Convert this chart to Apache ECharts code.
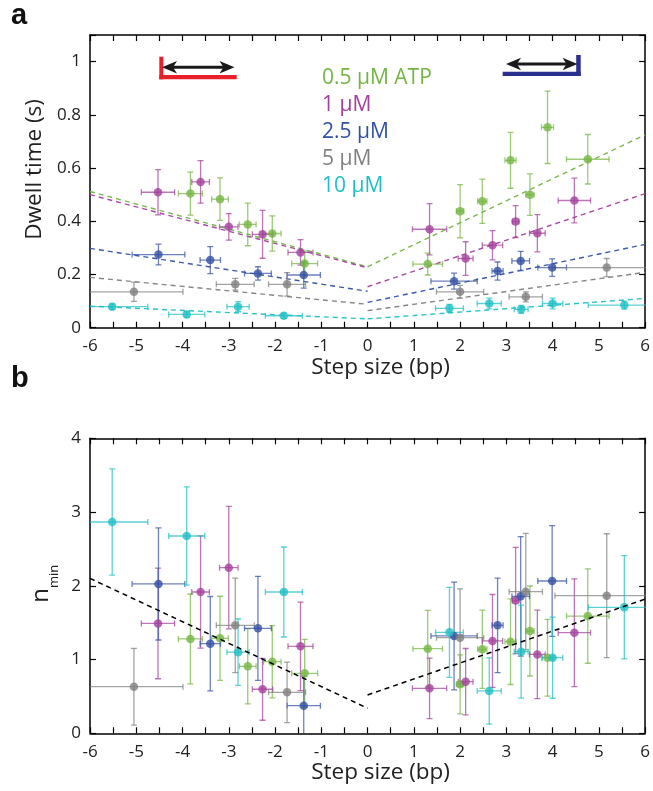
<!DOCTYPE html>
<html>
<head>
<meta charset="utf-8">
<script src="https://cdn.jsdelivr.net/npm/echarts@6/dist/echarts.min.js"></script>
<style>html,body{margin:0;padding:0;background:#fff}#c{width:653px;height:791px}</style>
</head>
<body>
<div id="c"></div>
<script>
// ---------- data ----------
const concNames = ['0.5 µM ATP', '1 µM', '2.5 µM', '5 µM', '10 µM'];
const concColors = ['#74b544', '#a4419c', '#3450a3', '#808080', '#1fbfc4'];

// 0.5 µM
const x05 = [-3.83, -3.19, -2.59, -2.06, -1.36, 1.30, 2.00, 2.48, 3.09, 3.51, 3.89, 4.76];
const xErr05 = [0.26, 0.18, 0.18, 0.19, 0.28, 0.32, 0.08, 0.10, 0.12, 0.09, 0.13, 0.46];
const dwell05 = [0.504, 0.483, 0.388, 0.354, 0.241, 0.239, 0.438, 0.475, 0.629, 0.50, 0.753, 0.633];
const dwellErr05 = [0.081, 0.08, 0.08, 0.066, 0.047, 0.041, 0.10, 0.083, 0.105, 0.078, 0.136, 0.093];
const nmin05 = [1.279, 1.288, 0.908, 0.971, 0.813, 1.148, 0.664, 1.139, 1.242, 1.387, 1.025, 1.59];
const nminErr05 = [0.61, 0.57, 0.51, 0.49, 0.46, 0.52, 0.40, 0.53, 0.58, 0.61, 0.52, 0.64];

// 1 µM
const x1 = [-4.53, -3.61, -3.00, -2.27, -1.45, 1.34, 2.12, 2.70, 3.20, 3.67, 4.47];
const xErr1 = [0.36, 0.19, 0.20, 0.22, 0.27, 0.37, 0.16, 0.22, 0.07, 0.17, 0.35];
const dwell1 = [0.509, 0.548, 0.379, 0.351, 0.283, 0.370, 0.260, 0.310, 0.399, 0.355, 0.478];
const dwellErr1 = [0.085, 0.08, 0.05, 0.09, 0.048, 0.096, 0.063, 0.055, 0.06, 0.07, 0.084];
const nmin1 = [1.49, 1.916, 2.246, 0.597, 1.18, 0.61, 0.70, 1.252, 1.80, 1.07, 1.364];
const nminErr1 = [0.75, 0.76, 0.83, 0.42, 0.60, 0.41, 0.45, 0.63, 0.72, 0.60, 0.73];

// 2.5 µM
const x25 = [-4.52, -3.40, -2.37, -1.38, 1.87, 2.81, 3.31, 3.99];
const xErr25 = [0.57, 0.22, 0.29, 0.36, 0.50, 0.12, 0.19, 0.31];
const dwell25 = [0.275, 0.254, 0.204, 0.198, 0.175, 0.213, 0.251, 0.226];
const dwellErr25 = [0.039, 0.051, 0.025, 0.049, 0.03, 0.034, 0.036, 0.033];
const nmin25 = [2.025, 1.215, 1.423, 0.375, 1.32, 1.464, 1.857, 2.065];
const nminErr25 = [0.76, 0.64, 0.705, 0.40, 0.73, 0.64, 0.81, 0.75];

// 5 µM
const x5 = [-5.05, -2.86, -1.74, 2.00, 3.42, 5.17];
const xErr5 = [1.06, 0.41, 0.40, 0.51, 0.36, 1.12];
const dwell5 = [0.135, 0.163, 0.163, 0.135, 0.116, 0.226];
const dwellErr5 = [0.036, 0.022, 0.044, 0.024, 0.019, 0.034];
const nmin5 = [0.632, 1.464, 0.556, 1.297, 1.92, 1.866];
const nminErr5 = [0.52, 0.64, 0.41, 0.66, 0.79, 0.84];

// 10 µM
const x10 = [-5.52, -3.91, -2.80, -1.81, 1.77, 2.63, 3.32, 4.00, 5.55];
const xErr10 = [0.77, 0.39, 0.24, 0.40, 0.30, 0.26, 0.15, 0.22, 0.78];
const dwell10 = [0.079, 0.050, 0.079, 0.045, 0.073, 0.091, 0.069, 0.091, 0.085];
const dwellErr10 = [0.01, 0.01, 0.019, 0.01, 0.015, 0.02, 0.015, 0.02, 0.015];
const nmin10 = [2.865, 2.675, 1.10, 1.916, 1.369, 0.574, 1.107, 1.025, 1.708];
const nminErr10 = [0.72, 0.667, 0.45, 0.61, 0.61, 0.45, 0.63, 0.55, 0.70];

// dashed fits: value at x = -6, 0 (left) and 0, 6 (right)
const fitLeftX = [-6, 0];
const fitRightX = [0, 6];
const dwellFitLeft = [[0.512, 0.229], [0.50, 0.225], [0.298, 0.137], [0.189, 0.088], [0.081, 0.033]];
const dwellFitRight = [[0.229, 0.725], [0.154, 0.504], [0.095, 0.313], [0.064, 0.208], [0.033, 0.110]];
const nminFitLeft = [2.10, 0.34];
const nminFitRight = [0.52, 1.82];

const xTicks = ['-6', '-5', '-4', '-3', '-2', '-1', '0', '1', '2', '3', '4', '5', '6'];

// ---------- build ----------
const groups = [
  [x05, xErr05, dwell05, dwellErr05, nmin05, nminErr05],
  [x1, xErr1, dwell1, dwellErr1, nmin1, nminErr1],
  [x25, xErr25, dwell25, dwellErr25, nmin25, nminErr25],
  [x5, xErr5, dwell5, dwellErr5, nmin5, nminErr5],
  [x10, xErr10, dwell10, dwellErr10, nmin10, nminErr10]
];

const FONT = '"Open Sans", "Noto Sans", sans-serif';

function errorRender(color) {
  return function (params, api) {
    const x = api.value(0), y = api.value(1), xe = api.value(2), ye = api.value(3);
    const c = api.coord([x, y]);
    const l = api.coord([x - xe, y]);
    const r = api.coord([x + xe, y]);
    const t = api.coord([x, y + ye]);
    const b = api.coord([x, y - ye]);
    const cap = 3;
    const st = {stroke: color, lineWidth: 1.3, opacity: 0.72};
    const line = (x1, y1, x2, y2) => ({type: 'line', shape: {x1, y1, x2, y2}, style: st});
    return {
      type: 'group',
      children: [
        line(l[0], c[1], r[0], c[1]),
        line(l[0], c[1] - cap, l[0], c[1] + cap),
        line(r[0], c[1] - cap, r[0], c[1] + cap),
        line(c[0], t[1], c[0], b[1]),
        line(c[0] - cap, t[1], c[0] + cap, t[1]),
        line(c[0] - cap, b[1], c[0] + cap, b[1])
      ]
    };
  };
}

const series = [];
groups.forEach((g, i) => {
  const [xs, xe, dw, dwe, nm, nme] = g;
  const name = concNames[i], color = concColors[i];
  // panel a
  series.push({
    name, type: 'line', xAxisIndex: 0, yAxisIndex: 0, symbol: 'none', silent: true, z: 1,
    data: fitLeftX.map((x, k) => [x, dwellFitLeft[i][k]]),
    lineStyle: {color, width: 1.4, type: [5, 4], opacity: 0.95}
  });
  series.push({
    name, type: 'line', xAxisIndex: 0, yAxisIndex: 0, symbol: 'none', silent: true, z: 1,
    data: fitRightX.map((x, k) => [x, dwellFitRight[i][k]]),
    lineStyle: {color, width: 1.4, type: [5, 4], opacity: 0.95}
  });
  series.push({
    name, type: 'custom', xAxisIndex: 0, yAxisIndex: 0, clip: true, z: 2,
    renderItem: errorRender(color),
    data: xs.map((x, k) => [x, dw[k], xe[k], dwe[k]])
  });
  series.push({
    name, type: 'scatter', xAxisIndex: 0, yAxisIndex: 0, symbolSize: 8.5, z: 3,
    itemStyle: {color},
    data: xs.map((x, k) => [x, dw[k]])
  });
  // panel b
  series.push({
    name, type: 'custom', xAxisIndex: 2, yAxisIndex: 2, clip: true, z: 2,
    renderItem: errorRender(color),
    data: xs.map((x, k) => [x, nm[k], xe[k], nme[k]])
  });
  series.push({
    name, type: 'scatter', xAxisIndex: 2, yAxisIndex: 2, symbolSize: 8.5, z: 3,
    itemStyle: {color},
    data: xs.map((x, k) => [x, nm[k]])
  });
});
series.push({
  type: 'line', xAxisIndex: 2, yAxisIndex: 2, symbol: 'none', silent: true, z: 4,
  data: fitLeftX.map((x, k) => [x, nminFitLeft[k]]),
  lineStyle: {color: '#000', width: 1.5, type: [5, 4]}
});
series.push({
  type: 'line', xAxisIndex: 2, yAxisIndex: 2, symbol: 'none', silent: true, z: 4,
  data: fitRightX.map((x, k) => [x, nminFitRight[k]]),
  lineStyle: {color: '#000', width: 1.5, type: [5, 4]}
});

const axLine = {show: true, onZero: false, lineStyle: {color: '#000', width: 1.5}};
const tick = {show: true, inside: true, length: 6, lineStyle: {color: '#000', width: 1.2}};
const minor = {show: true, splitNumber: 2, length: 6, lineStyle: {color: '#000', width: 1.2}};
const tickFont = {color: '#222', fontSize: 17, fontFamily: FONT};
const titleFont = {color: '#222', fontSize: 22.5, fontFamily: FONT};

function xAxes(grid) {
  return [{
    type: 'value', gridIndex: grid, position: 'bottom', min: -6, max: 6, interval: 1,
    axisLine: axLine, axisTick: tick, minorTick: minor, splitLine: {show: false},
    axisLabel: Object.assign({margin: 10, formatter: v => xTicks[Math.round(v) + 6]}, tickFont),
    name: 'Step size (bp)', nameLocation: 'middle', nameGap: 24,
    nameTextStyle: Object.assign({padding: [0, 0, 0, 26]}, titleFont)
  }, {
    type: 'value', gridIndex: grid, position: 'top', min: -6, max: 6, interval: 1,
    axisLine: axLine, axisTick: tick, minorTick: minor, splitLine: {show: false},
    axisLabel: {show: false}
  }];
}

const option = {
  animation: false,
  backgroundColor: '#fff',
  textStyle: {fontFamily: FONT},
  grid: [
    {left: 90, right: 6.5, top: 35, height: 292.7},
    {left: 90, right: 6.5, top: 438.3, height: 295}
  ],
  xAxis: [...xAxes(0), ...xAxes(1)],
  yAxis: [{
    type: 'value', gridIndex: 0, position: 'left', min: 0, max: 1.1, interval: 0.2,
    axisLine: axLine, axisTick: tick, splitLine: {show: false},
    axisLabel: Object.assign({margin: 9, formatter: v => (v > 1.05 ? '' : String(+v.toFixed(1)))}, tickFont),
    name: 'Dwell time (s)', nameLocation: 'middle', nameGap: 41,
    nameTextStyle: Object.assign({padding: [0, 0, 0, 24]}, titleFont)
  }, {
    type: 'value', gridIndex: 0, position: 'right', min: 0, max: 1.1, interval: 0.2,
    axisLine: axLine, axisTick: tick, splitLine: {show: false}, axisLabel: {show: false}
  }, {
    type: 'value', gridIndex: 1, position: 'left', min: 0, max: 4, interval: 1,
    axisLine: axLine, axisTick: tick, splitLine: {show: false},
    axisLabel: Object.assign({margin: 9}, tickFont),
    name: '{n|n}{s|min}', nameLocation: 'middle', nameGap: 36,
    nameTextStyle: {color: '#222', fontFamily: FONT, padding: [0, 0, 0, 4],
      rich: {n: {fontSize: 24, fontFamily: FONT, color: '#222'},
             s: {fontSize: 13, fontFamily: FONT, color: '#222', verticalAlign: 'bottom', padding: [0, 0, -7, 0]}}}
  }, {
    type: 'value', gridIndex: 1, position: 'right', min: 0, max: 4, interval: 1,
    axisLine: axLine, axisTick: tick, splitLine: {show: false}, axisLabel: {show: false}
  }],
  legend: {
    left: 317, top: 67, orient: 'vertical', selectedMode: false,
    itemWidth: 0, itemHeight: 22, itemGap: 5, padding: 0,
    textStyle: {fontSize: 21, fontFamily: FONT, lineHeight: 22},
    data: concNames.map((n, i) => ({name: n, icon: 'none', textStyle: {color: concColors[i]}}))
  },
  graphic: [
    {type: 'text', left: 11, top: 1, style: {text: 'a', fontSize: 29, fontWeight: 'bold', fontFamily: 'Liberation Sans, Arial, sans-serif', fill: '#111'}},
    {type: 'text', left: 11, top: 364, style: {text: 'b', fontSize: 29, fontWeight: 'bold', fontFamily: 'Liberation Sans, Arial, sans-serif', fill: '#111'}},
    // red icon (left)
    {type: 'rect', shape: {x: 159.3, y: 56.7, width: 4, height: 22.6}, style: {fill: '#e8202a'}},
    {type: 'rect', shape: {x: 159.3, y: 75, width: 77.4, height: 4.3}, style: {fill: '#e8202a'}},
    {type: 'line', shape: {x1: 168, y1: 67.3, x2: 228, y2: 67.3}, style: {stroke: '#1a1a1a', lineWidth: 3}},
    {type: 'polygon', shape: {points: [[162, 67.3], [177, 61], [173, 67.3], [177, 73.6]]}, style: {fill: '#1a1a1a'}},
    {type: 'polygon', shape: {points: [[234.5, 67.3], [219.5, 61], [223.5, 67.3], [219.5, 73.6]]}, style: {fill: '#1a1a1a'}},
    // blue icon (right)
    {type: 'rect', shape: {x: 502.7, y: 71.7, width: 78, height: 4.3}, style: {fill: '#2b2f8e'}},
    {type: 'rect', shape: {x: 576.2, y: 55, width: 4.5, height: 21}, style: {fill: '#2b2f8e'}},
    {type: 'line', shape: {x1: 512, y1: 64, x2: 571, y2: 64}, style: {stroke: '#1a1a1a', lineWidth: 3}},
    {type: 'polygon', shape: {points: [[506, 64], [521, 57.7], [517, 64], [521, 70.3]]}, style: {fill: '#1a1a1a'}},
    {type: 'polygon', shape: {points: [[577.5, 64], [562.5, 57.7], [566.5, 64], [562.5, 70.3]]}, style: {fill: '#1a1a1a'}}
  ],
  series
};

const chart = echarts.init(document.getElementById('c'), null, {renderer: 'canvas'});
chart.setOption(option);
</script>
</body>
</html>
